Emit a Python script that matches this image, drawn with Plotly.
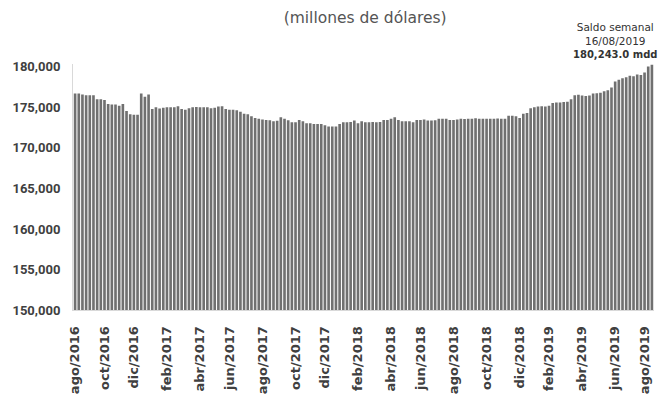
import pandas as pd
import plotly.graph_objects as go

# Weekly reserve balance, millions of dollars
start_date = "2016-08-12"
values = [
    176700, 176700, 176600, 176500, 176500, 176500, 176000, 176000, 175900, 175400,
    175350, 175350, 175200, 175400, 174550, 174150, 174100, 174100, 176700, 176300,
    176600, 174800, 175000, 174850, 174950, 175000, 175000, 175000, 175150, 174800,
    174700, 174900, 175000, 175050, 175000, 175000, 175000, 174900, 174950, 175100,
    175150, 174800, 174700, 174700, 174650, 174450, 174200, 174150, 173900, 173700,
    173600, 173500, 173450, 173400, 173300, 173350, 173780, 173600, 173400, 173160,
    173160, 173450, 173300, 173040, 173040, 172960, 172960, 172960, 172800, 172650,
    172630, 172630, 172960, 173160, 173160, 173200, 173370, 173040, 173290, 173160,
    173160, 173200, 173160, 173200, 173450, 173450, 173580, 173780, 173450, 173300,
    173290, 173300, 173160, 173450, 173450, 173500, 173370, 173370, 173400, 173580,
    173580, 173600, 173450, 173450, 173500, 173600, 173550, 173600, 173600, 173650,
    173600, 173600, 173580, 173600, 173600, 173620, 173600, 173600, 173950, 173950,
    173900, 173700, 174200, 174300, 174900, 175000, 175100, 175150, 175100, 175200,
    175550, 175600, 175600, 175650, 175700, 176000, 176500, 176550, 176450, 176400,
    176450, 176700, 176750, 176800, 177000, 177100, 177450, 178200, 178400, 178600,
    178700, 178900, 178850, 179050, 179000, 179300, 180050, 180243,
]

tick_months = ["2016-08", "2016-10", "2016-12", "2017-02", "2017-04", "2017-06",
               "2017-08", "2017-10", "2017-12", "2018-02", "2018-04", "2018-06",
               "2018-08", "2018-10", "2018-12", "2019-02", "2019-04", "2019-06",
               "2019-08"]
tick_labels = ["ago/2016", "oct/2016", "dic/2016", "feb/2017", "abr/2017", "jun/2017",
               "ago/2017", "oct/2017", "dic/2017", "feb/2018", "abr/2018", "jun/2018",
               "ago/2018", "oct/2018", "dic/2018", "feb/2019", "abr/2019", "jun/2019",
               "ago/2019"]

y_ticks = [150000, 155000, 160000, 165000, 170000, 175000, 180000]

dates = pd.date_range(start_date, periods=len(values), freq="7D")
s = pd.Series(dates)
tick_vals = []
for m in tick_months:
    sel = s[s.dt.strftime("%Y-%m") == m]
    tick_vals.append(sel.iloc[0])

fig = go.Figure()
fig.add_trace(go.Bar(
    x=dates, y=values,
    marker=dict(color="#707070", line=dict(width=0)),
))

fig.update_layout(
    width=670, height=400,
    margin=dict(l=73, r=16, t=64, b=90, autoexpand=False),
    paper_bgcolor="white", plot_bgcolor="white",
    bargap=0.28,
    showlegend=False,
    font=dict(family="DejaVu Sans, sans-serif", color="#404040"),
    title=dict(text="(millones de dólares)", x=0.545, xanchor="center",
               y=0.955, yanchor="middle",
               font=dict(size=15.5, color="#555555", family="DejaVu Sans, sans-serif")),
)

fig.update_xaxes(
    range=[dates[0] - pd.Timedelta(days=4), dates[-1] + pd.Timedelta(days=4)],
    tickvals=tick_vals, ticktext=tick_labels, tickangle=-90,
    tickfont=dict(size=13, color="#404040", family="DejaVu Sans, sans-serif", weight="bold"),
    showgrid=False, showline=True, linecolor="#d9d9d9", linewidth=1,
    ticks="", ticklabelstandoff=10, automargin=False,
)
fig.update_yaxes(
    range=[150000, 180350], tickvals=y_ticks,
    ticktext=[f"{v:,}" for v in y_ticks],
    tickfont=dict(size=13, color="#404040", family="Roboto, sans-serif", weight="bold"),
    showgrid=False, showline=True, linecolor="#d9d9d9", linewidth=1,
    ticks="", zeroline=False, ticklabelstandoff=9, automargin=False,
)

fig.add_annotation(
    xref="paper", yref="paper", x=0.934, y=1.0, yshift=2,
    xanchor="center", yanchor="bottom", showarrow=False, align="center",
    text="Saldo semanal<br>16/08/2019<br><b><span style='font-size:10px'>180,243.0 mdd</span></b>",
    font=dict(size=10.5, color="#333333", family="DejaVu Sans, sans-serif"),
)

fig.write_html("out.html", config={"displayModeBar": False},
               post_script="document.body.style.margin='0';")
